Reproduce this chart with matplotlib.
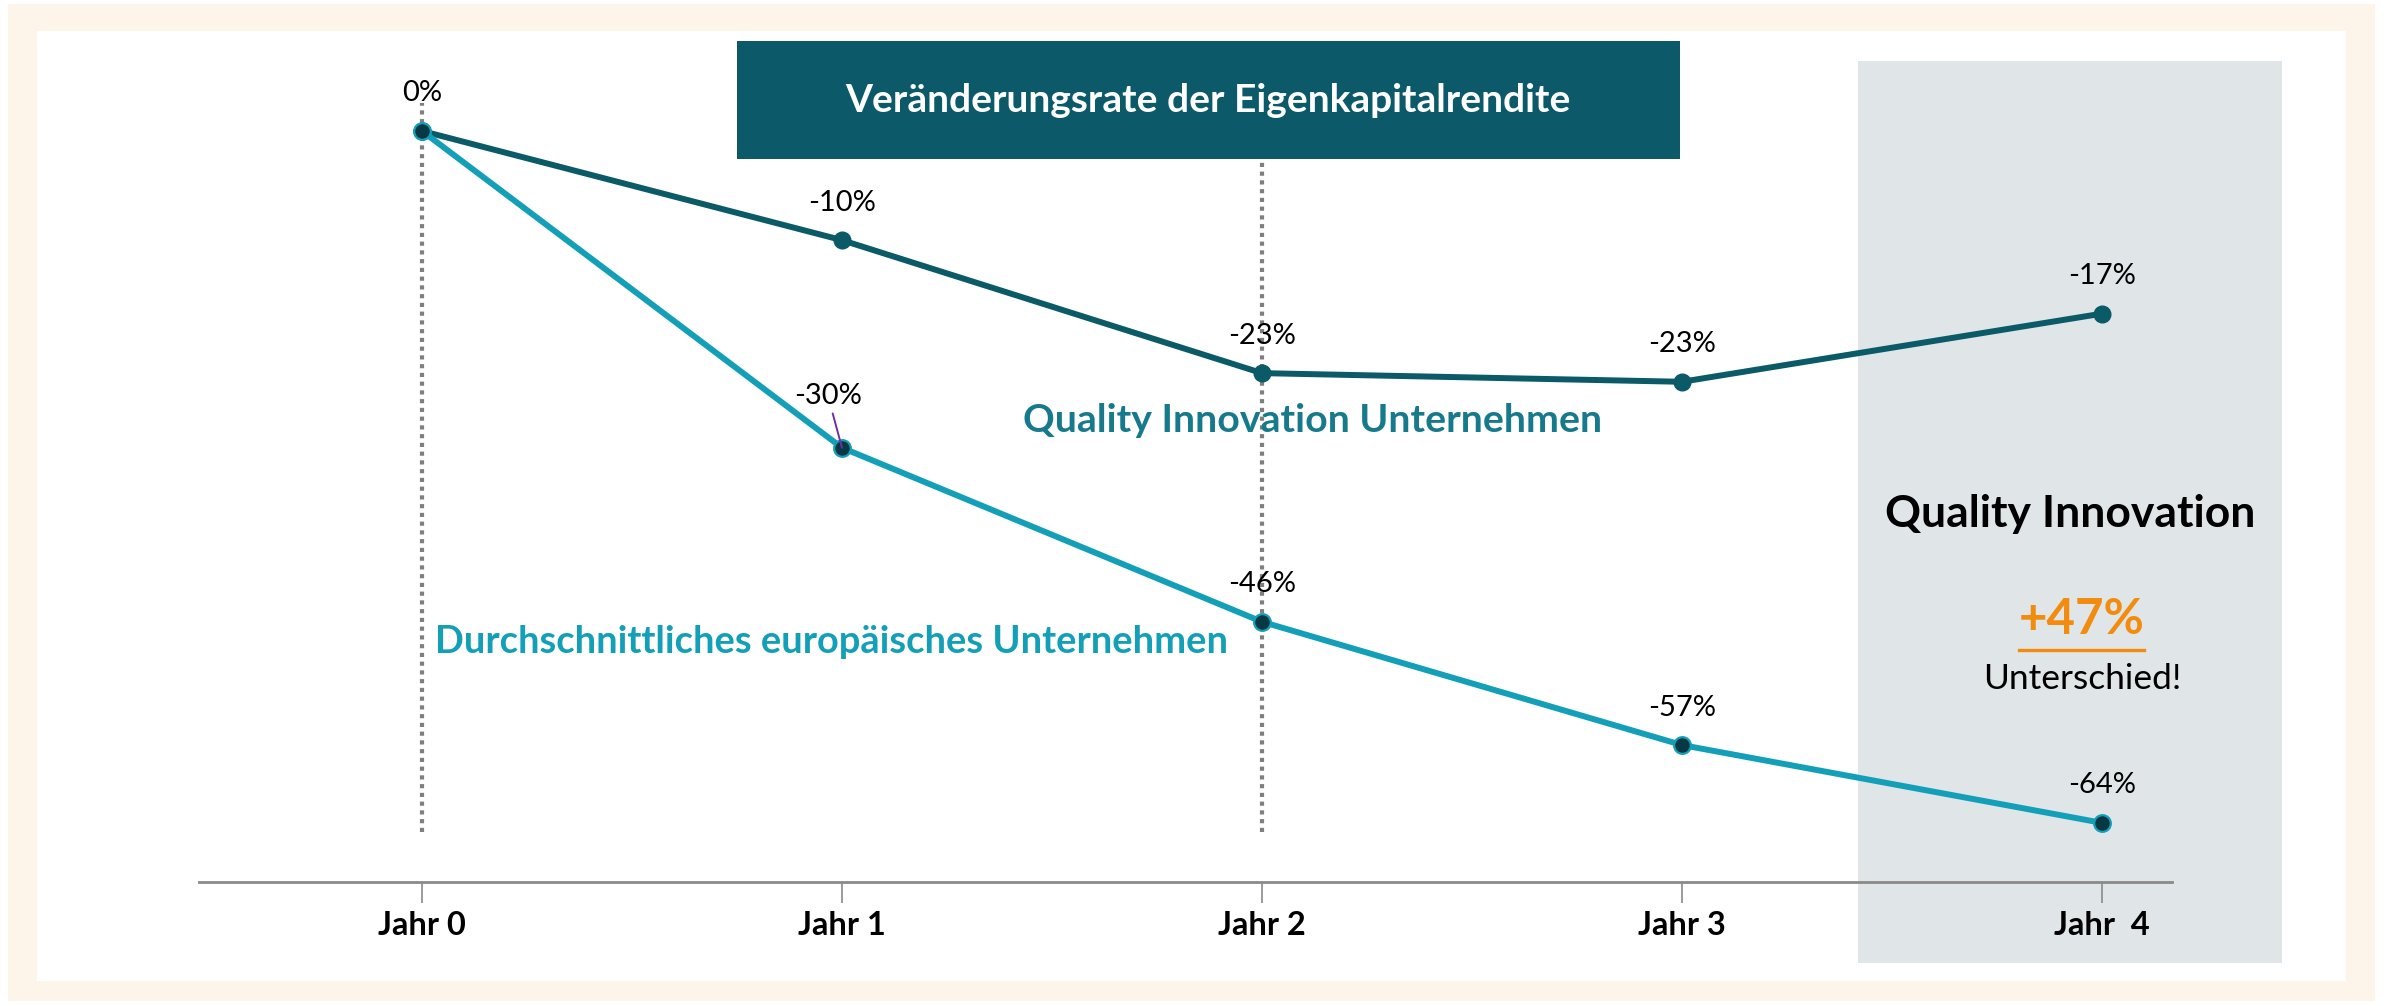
import matplotlib.pyplot as plt
from matplotlib.patches import Rectangle
from matplotlib.lines import Line2D

plt.rcParams['font.family'] = ['Lato', 'DejaVu Sans']

# Data
years = [0, 1, 2, 3, 4]
year_labels = ["Jahr 0", "Jahr 1", "Jahr 2", "Jahr 3", "Jahr  4"]
qi_values = [0, -10.1, -22.4, -23.2, -16.9]
qi_labels = ["0%", "-10%", "-23%", "-23%", "-17%"]
avg_values = [0, -29.3, -45.4, -56.8, -64.0]
avg_labels = ["", "-30%", "-46%", "-57%", "-64%"]

# Colours
cream = "#fdf4ea"
panel_grey = "#e0e5e8"
title_teal = "#0c5a69"
dark_teal = "#0b5a68"
light_teal = "#149fb9"
marker_dark = "#083844"
orange = "#f28c0f"

W, H = 2386, 1006


def fx(x):
    return x / W


def fy(y):
    return 1 - y / H


fig = plt.figure(figsize=(W / 100, H / 100), dpi=100)
fig.patch.set_facecolor("white")


def box(x0, y0, x1, y1, color):
    fig.patches.append(Rectangle((fx(x0), fy(y1)), fx(x1) - fx(x0), fy(y0) - fy(y1),
                                 transform=fig.transFigure, facecolor=color,
                                 edgecolor="none", zorder=0))


# background frame, highlight panel, title box
box(8, 4, 2375, 1001, cream)
box(37, 31, 2346, 981, "white")
box(1858, 61, 2282, 963, panel_grey)
box(737, 41, 1680, 159, title_teal)

# axes placed in pixel terms
ax_l, ax_r, ax_b, ax_t = 199, 2172, 882, 30
ax = fig.add_axes([fx(ax_l), fy(ax_b), fx(ax_r) - fx(ax_l), fy(ax_t) - fy(ax_b)])
ax.set_zorder(2)
ax.patch.set_visible(False)
ax.set_xlim(-0.531, 4.167)
ax.set_ylim(-69.47, 9.34)

for s in ["left", "top", "right"]:
    ax.spines[s].set_visible(False)
ax.spines["bottom"].set_color("#8a8a8a")
ax.spines["bottom"].set_linewidth(2)
ax.set_yticks([])
ax.set_xticks(years)
ax.set_xticklabels(year_labels, fontsize=23.5, fontweight="bold")
ax.tick_params(axis="x", length=15, width=1.2, color="#8a8a8a", pad=6)

# dotted guide lines
ax.vlines(0, -64.85, 2.6, colors="#7f7f7f", linestyles=(0, (1, 1.1)), lw=3, zorder=1)
ax.vlines(2, -64.85, -2.6, colors="#7f7f7f", linestyles=(0, (1, 1.1)), lw=3, zorder=1)

# lines
ax.plot(years, qi_values, color=dark_teal, lw=4.3, marker="o", ms=12,
        mfc=dark_teal, mec=dark_teal, zorder=3)
ax.plot(years, avg_values, color=light_teal, lw=4.3, marker="o", ms=12,
        mfc=marker_dark, mec=light_teal, mew=1.6, zorder=4)

# value labels
for x, v, lab in zip(years, qi_values, qi_labels):
    ax.annotate(lab, (x, v), xytext=(0, 27), textcoords="offset points",
                ha="center", va="center", fontsize=21, color="black", zorder=5)
for x, v, lab in zip(years, avg_values, avg_labels):
    if not lab:
        continue
    if x == 1:
        ax.annotate(lab, (x, v), xytext=(-10, 37), textcoords="offset points",
                    ha="center", va="center", fontsize=21, color="black", zorder=5,
                    arrowprops=dict(arrowstyle="-", color="#7030a0", lw=1.4,
                                    shrinkA=1, shrinkB=0))
    else:
        ax.annotate(lab, (x, v), xytext=(0, 27), textcoords="offset points",
                    ha="center", va="center", fontsize=21, color="black", zorder=5)

# text elements
fig.text(fx(1208), fy(100), "Veränderungsrate der Eigenkapitalrendite", color="white",
         fontsize=28, fontweight="bold", ha="center", va="center", zorder=3)
fig.text(fx(1313), fy(421), "Quality Innovation Unternehmen", color="#177a8c",
         fontsize=28.3, fontweight="bold", ha="center", va="center", zorder=3)
fig.text(fx(832), fy(642), "Durchschnittliches europäisches Unternehmen", color=light_teal,
         fontsize=27.4, fontweight="bold", ha="center", va="center", zorder=3)
fig.text(fx(2070), fy(514), "Quality Innovation", color="black",
         fontsize=32, fontweight="bold", ha="center", va="center", zorder=3)
fig.text(fx(2082), fy(620), "+47%", color=orange,
         fontsize=35.5, fontweight="bold", ha="center", va="center", zorder=3)
fig.lines.append(Line2D([fx(2019), fx(2144)], [fy(650), fy(650)], transform=fig.transFigure,
                        color=orange, lw=2.4, zorder=3))
fig.text(fx(2082), fy(679), "Unterschied!", color="black",
         fontsize=25.5, ha="center", va="center", zorder=3)

fig.savefig("out.png", dpi=100, facecolor="white")
